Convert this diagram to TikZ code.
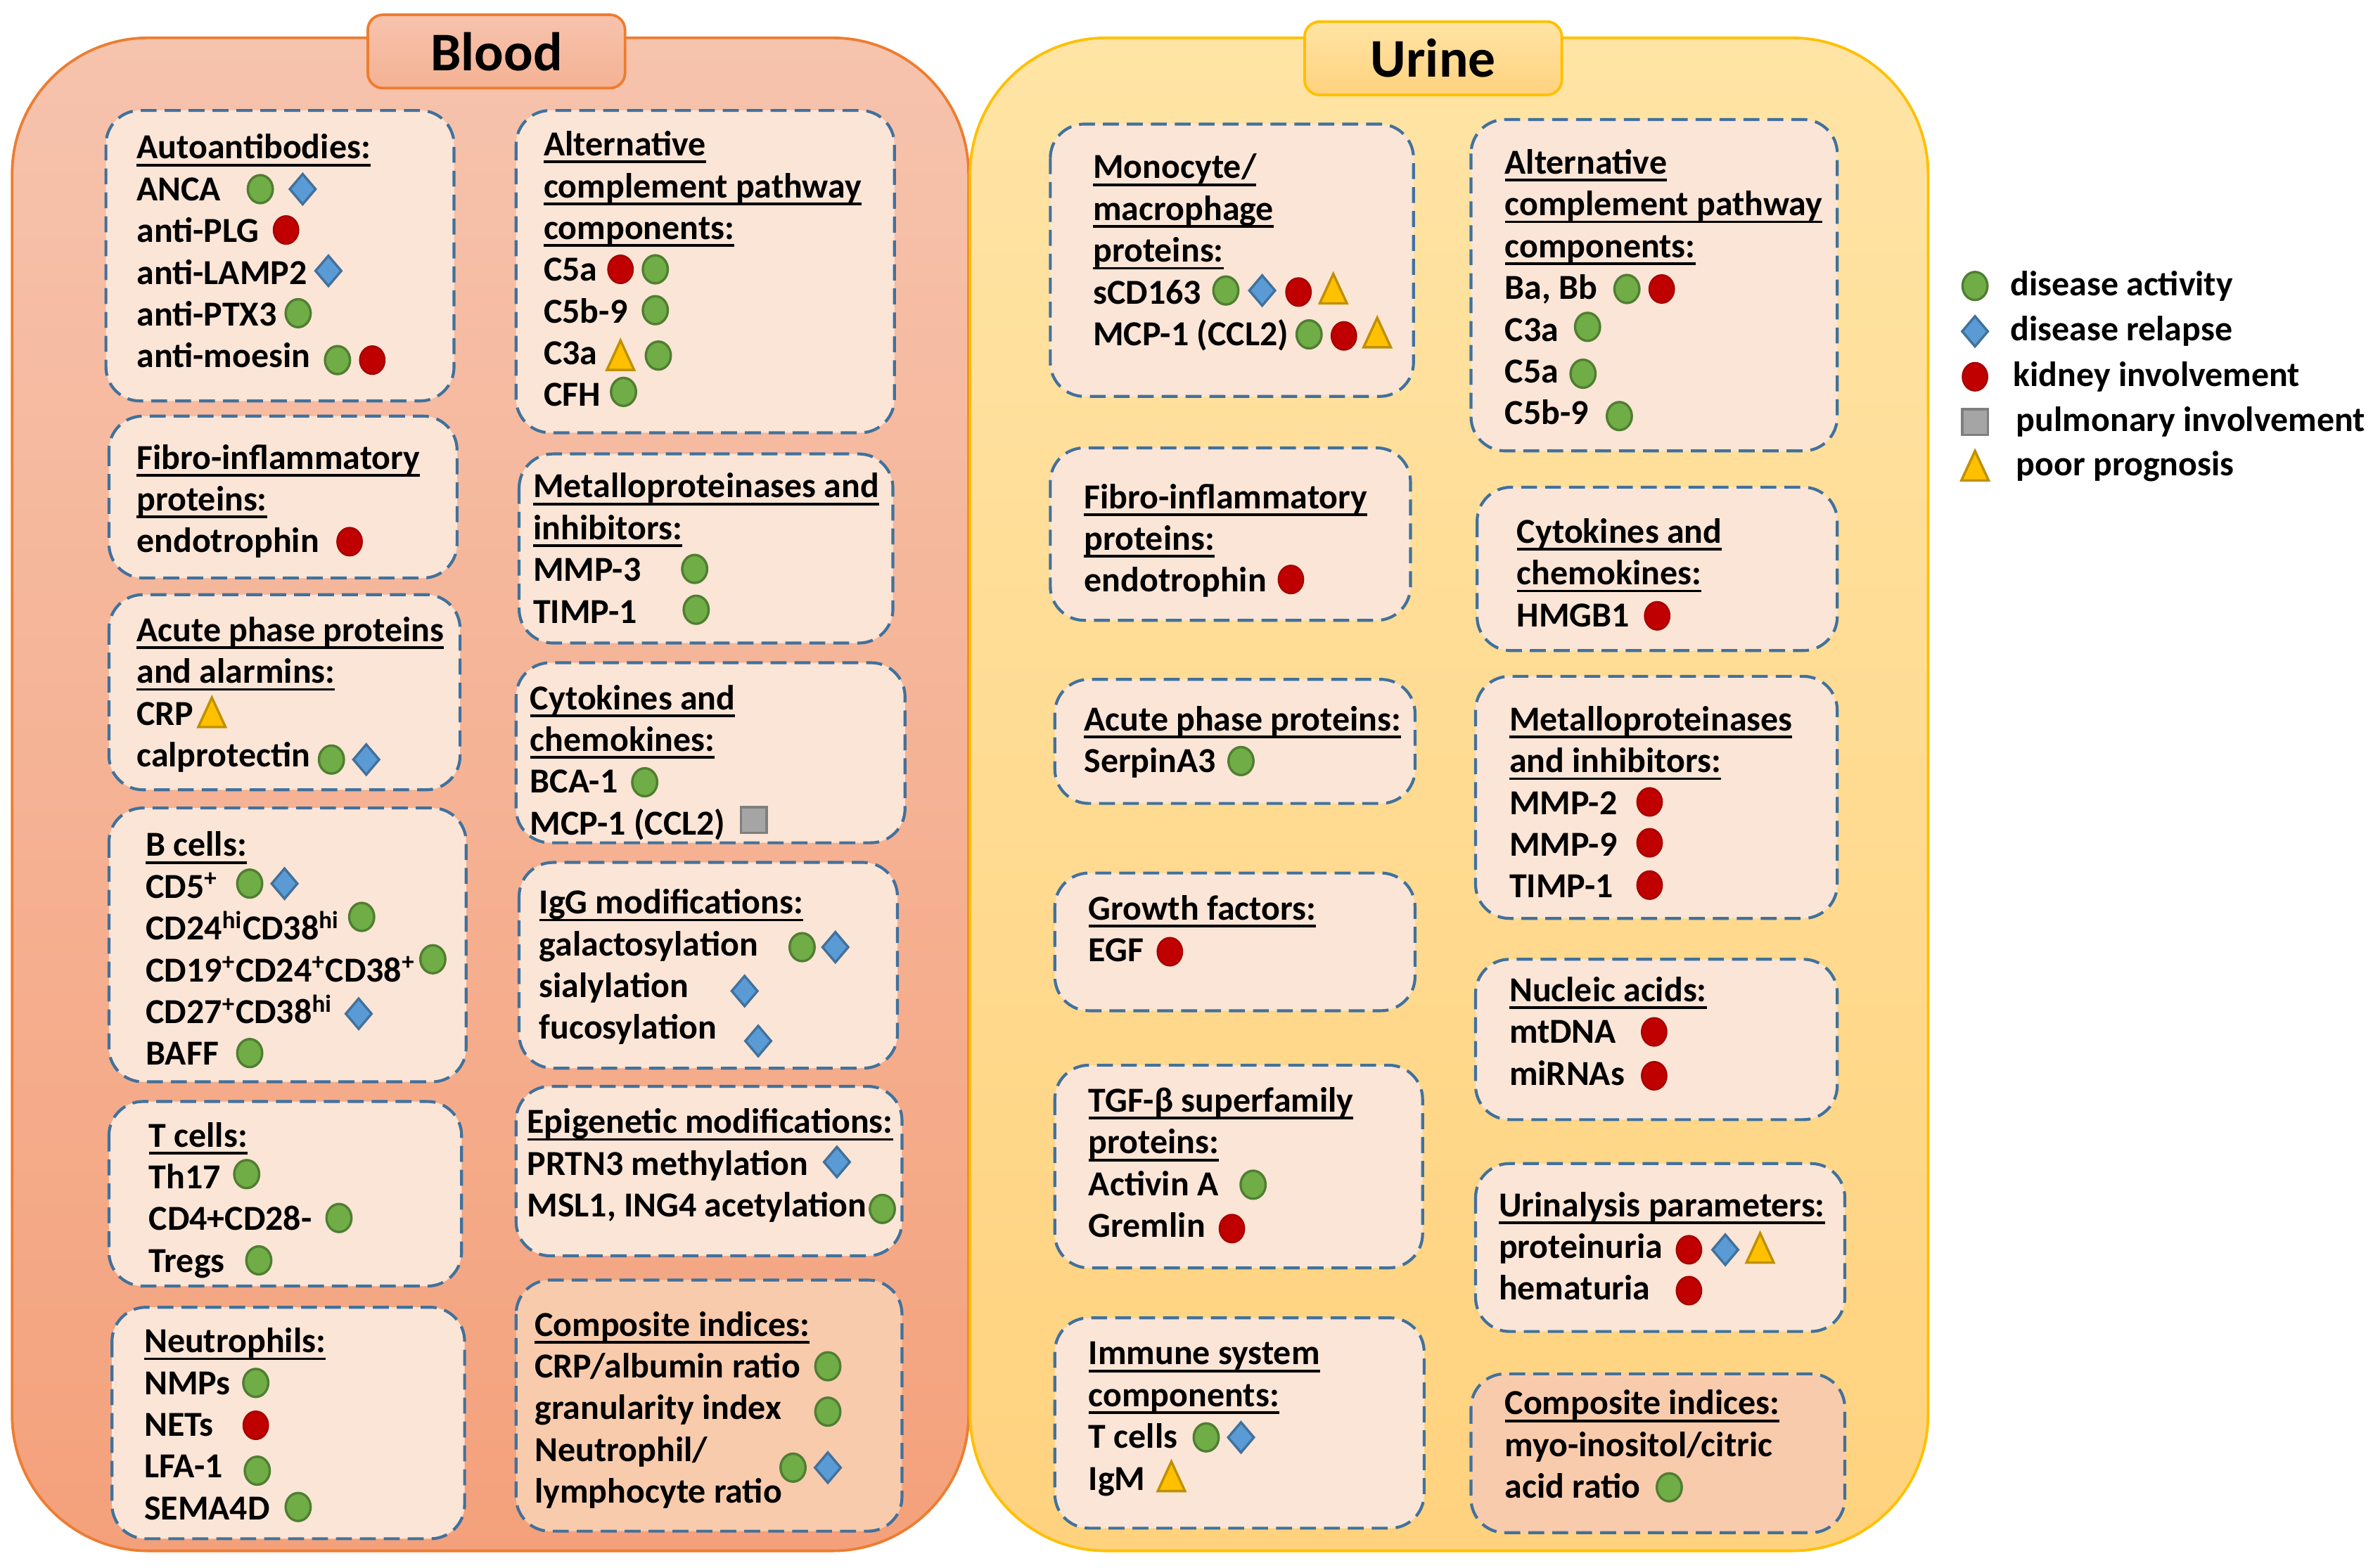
\documentclass[tikz,border=0pt]{standalone}
\usepackage{fontspec}
\setmainfont{Carlito}
\usetikzlibrary{positioning}

\definecolor{bloodline}{HTML}{ED7D31}
\definecolor{bloodtop}{HTML}{F6C3AD}
\definecolor{bloodbot}{HTML}{F4A17B}
\definecolor{urineline}{HTML}{FFC000}
\definecolor{urinetop}{HTML}{FFE4A5}
\definecolor{urinebot}{HTML}{FFD27E}
\definecolor{panelfill}{HTML}{FBE5D6}
\definecolor{compfill}{HTML}{F8CBAD}
\definecolor{dashline}{HTML}{41719C}
\definecolor{actfill}{HTML}{70AD47}
\definecolor{actline}{HTML}{507E32}
\definecolor{relfill}{HTML}{5B9BD5}
\definecolor{relline}{HTML}{41719C}
\definecolor{kidfill}{HTML}{C00000}
\definecolor{kidline}{HTML}{A50000}
\definecolor{pulfill}{HTML}{A5A5A5}
\definecolor{pulline}{HTML}{7F7F7F}
\definecolor{profill}{HTML}{FFC000}
\definecolor{proline}{HTML}{BF9000}

\newcommand{\bodyfont}{\fontsize{13.2}{16}\selectfont\bfseries}
% underlined heading, rule at a fixed depth
\newcommand{\hd}[1]{\setbox0\hbox{#1}\rlap{\rule[-2.8pt]{\wd0}{1pt}}\box0}
% one text line per node, 27.6 units apart
\newcommand{\rows}[4]{%
	\foreach \txt [count=\n] in {#4}
		\node[row] (#1\n) at (#2,{#3+27.6*(\n-1)}) {\txt};%
}

\tikzset{
	bloodbox/.style={
		draw=bloodline,
		line width=1pt,
		top color=bloodtop,
		bottom color=bloodbot,
		rounded corners=1.8cm,
	},
	urinebox/.style={
		draw=urineline,
		line width=1pt,
		top color=urinetop,
		bottom color=urinebot,
		rounded corners=1.8cm,
	},
	tab/.style={
		rectangle,
		rounded corners=0.2cm,
		line width=1pt,
		minimum width=3.4cm,
		minimum height=0.97cm,
		font=\fontsize{20.5}{24}\selectfont\bfseries,
	},
	panel/.style={
		draw=dashline,
		fill=panelfill,
		line width=1.1pt,
		dash pattern=on 6pt off 3pt,
		rounded corners=0.45cm,
	},
	comp/.style={
		panel,
		fill=compfill,
	},
	row/.style={
		anchor=base west,
		inner sep=0pt,
		yshift=-0.16cm,
		font=\bodyfont,
	},
	legtext/.style={
		anchor=west,
		inner sep=0pt,
		font=\bodyfont,
	},
	act/.pic={
		\draw[fill=actfill,draw=actline,line width=0.9pt] (0,0) ellipse [x radius=0.165cm,y radius=0.185cm];
	},
	rel/.pic={
		\draw[fill=relfill,draw=relline,line width=0.9pt] (0,0.2cm) -- (0.17cm,0) -- (0,-0.2cm) -- (-0.17cm,0) -- cycle;
	},
	kid/.pic={
		\draw[fill=kidfill,draw=kidline,line width=0.6pt] (0,0) ellipse [x radius=0.165cm,y radius=0.185cm];
	},
	pul/.pic={
		\draw[fill=pulfill,draw=pulline,line width=0.9pt] (-0.17cm,-0.17cm) rectangle (0.17cm,0.17cm);
	},
	pro/.pic={
		\draw[fill=profill,draw=proline,line width=0.9pt] (0,0.2cm) -- (0.18cm,-0.19cm) -- (-0.18cm,-0.19cm) -- cycle;
	},
}

\begin{document}
\begin{tikzpicture}[x=0.02cm,y=-0.02cm]
	\useasboundingbox (0,0) rectangle (1568,1036);

	% outer areas
	\draw[bloodbox] (8,25) rectangle (640,1025);
	\draw[urinebox] (641,25) rectangle (1274,1025);
	\node[tab,draw=bloodline,top color=bloodtop,bottom color=bloodtop!50!bloodbot] (bloodtab) at (328,34) {Blood};
	\node[tab,draw=urineline,top color=urinetop,bottom color=urinebot] (urinetab) at (947,38.5) {Urine};

	% blood, left column
	\draw[panel] (70,73) rectangle (300,265);
	\draw[panel] (72,275) rectangle (302,382);
	\draw[panel] (72,393) rectangle (304,522);
	\draw[panel] (72,534) rectangle (308,715);
	\draw[panel] (72,728) rectangle (305,850);
	\draw[panel] (74,864) rectangle (307,1017);
	% blood, right column
	\draw[panel] (341,73) rectangle (591,286);
	\draw[panel] (343,300) rectangle (590,425);
	\draw[panel] (341,438) rectangle (598,557);
	\draw[panel] (343,570) rectangle (593,706);
	\draw[panel] (341,718) rectangle (596,830);
	\draw[comp] (341,846) rectangle (596,1012);
	% urine, left column
	\draw[panel] (694,82) rectangle (934,262);
	\draw[panel] (694,296) rectangle (932,410);
	\draw[panel] (697,449) rectangle (935,531);
	\draw[panel] (697,577) rectangle (935,668);
	\draw[panel] (697,704) rectangle (940,838);
	\draw[panel] (697,871) rectangle (941,1010);
	% urine, right column
	\draw[panel] (972,79) rectangle (1214,298);
	\draw[panel] (976,322) rectangle (1214,430);
	\draw[panel] (975,447) rectangle (1214,607);
	\draw[panel] (975,634) rectangle (1214,740);
	\draw[panel] (975,769) rectangle (1219,880);
	\draw[comp] (972,908) rectangle (1219,1013);

	\rows{auto}{90}{97}{\hd{Autoantibodies:},ANCA,anti-PLG,anti-LAMP2,anti-PTX3,anti-moesin}
	\rows{fib}{90}{302}{\hd{Fibro-inflammatory},\hd{proteins:},endotrophin}
	\rows{acu}{90}{416}{\hd{Acute phase proteins},\hd{and alarmins:},CRP,calprotectin}
	\rows{bcl}{96}{558}{\hd{B cells:},CD5\textsuperscript{+},CD24\textsuperscript{hi}CD38\textsuperscript{hi},CD19\textsuperscript{+}CD24\textsuperscript{+}CD38\textsuperscript{+},CD27\textsuperscript{+}CD38\textsuperscript{hi},BAFF}
	\rows{tcl}{98}{750}{\hd{T cells:},Th17,CD4+CD28-,Tregs}
	\rows{neu}{95}{886}{\hd{Neutrophils:},NMPs,NETs,LFA-1,SEMA4D}

	\rows{acp}{359}{95}{\hd{Alternative},\hd{complement pathway},\hd{components:},C5a,C5b-9,C3a,CFH}
	\rows{mmp}{352}{321}{\hd{Metalloproteinases and},\hd{inhibitors:},MMP-3,TIMP-1}
	\rows{cyt}{350}{461}{\hd{Cytokines and},\hd{chemokines:},BCA-1,MCP-1 (CCL2)}
	\rows{igg}{356}{596}{\hd{IgG modifications:},galactosylation,sialylation,fucosylation}
	\rows{epi}{348}{741}{\hd{Epigenetic modifications:},PRTN3 methylation,{MSL1, ING4 acetylation}}
	\rows{cmp}{353}{875}{\hd{Composite indices:},CRP/albumin ratio,granularity index,Neutrophil/,lymphocyte ratio}

	\rows{mon}{722}{110}{\hd{Monocyte/},\hd{macrophage},\hd{proteins:},sCD163,MCP-1 (CCL2)}
	\rows{ufib}{716}{328}{\hd{Fibro-inflammatory},\hd{proteins:},endotrophin}
	\rows{uacu}{716}{475}{\hd{Acute phase proteins:},SerpinA3}
	\rows{gro}{719}{600}{\hd{Growth factors:},EGF}
	\rows{tgf}{719}{727}{\hd{TGF-β superfamily},\hd{proteins:},Activin A,Gremlin}
	\rows{imm}{719}{894}{\hd{Immune system},\hd{components:},T cells,IgM}

	\rows{uacp}{994}{107}{\hd{Alternative},\hd{complement pathway},\hd{components:},{Ba, Bb},C3a,C5a,C5b-9}
	\rows{ucyt}{1002}{351}{\hd{Cytokines and},\hd{chemokines:},HMGB1}
	\rows{ummp}{997}{475}{\hd{Metalloproteinases},\hd{and inhibitors:},MMP-2,MMP-9,TIMP-1}
	\rows{nuc}{997}{654}{\hd{Nucleic acids:},mtDNA,miRNAs}
	\rows{uri}{990}{796}{\hd{Urinalysis parameters:},proteinuria,hematuria}
	\rows{ucmp}{994}{927}{\hd{Composite indices:},myo-inositol/citric,acid ratio}

	% markers, blood
	\pic at (172,125) {act}; \pic at (200,125) {rel};
	\pic at (189,152) {kid};
	\pic at (217,179) {rel};
	\pic at (197,207) {act};
	\pic at (223,238) {act}; \pic at (246,238) {kid};
	\pic at (231,358) {kid};
	\pic at (140,471) {pro};
	\pic at (219,502) {act}; \pic at (242,502) {rel};
	\pic at (165,584) {act}; \pic at (188,584) {rel};
	\pic at (239,606) {act};
	\pic at (286,634) {act};
	\pic at (237,670) {rel};
	\pic at (165,696) {act};
	\pic at (163,776) {act};
	\pic at (224,805) {act};
	\pic at (171,833) {act};
	\pic at (169,914) {act};
	\pic at (169,942) {kid};
	\pic at (170,972) {act};
	\pic at (197,996) {act};
	\pic at (410,178) {kid}; \pic at (433,178) {act};
	\pic at (433,205) {act};
	\pic at (410,235) {pro}; \pic at (435,235) {act};
	\pic at (412,259) {act};
	\pic at (459,376) {act};
	\pic at (460,403) {act};
	\pic at (426,517) {act};
	\pic at (498,542) {pul};
	\pic at (530,626) {act}; \pic at (552,626) {rel};
	\pic at (492,655) {rel};
	\pic at (501,688) {rel};
	\pic at (553,768) {rel};
	\pic at (583,799) {act};
	\pic at (547,903) {act};
	\pic at (547,933) {act};
	\pic at (524,970) {act}; \pic at (547,970) {rel};

	% markers, urine
	\pic at (810,192) {act}; \pic at (834,192) {rel}; \pic at (858,193) {kid}; \pic at (881,191) {pro};
	\pic at (865,221) {act}; \pic at (888,222) {kid}; \pic at (910,220) {pro};
	\pic at (853,383) {kid};
	\pic at (820,503) {act};
	\pic at (773,629) {kid};
	\pic at (828,783) {act};
	\pic at (814,812) {kid};
	\pic at (797,950) {act}; \pic at (820,950) {rel};
	\pic at (774,976) {pro};
	\pic at (1075,191) {act}; \pic at (1098,191) {kid};
	\pic at (1049,216) {act};
	\pic at (1046,247) {act};
	\pic at (1070,275) {act};
	\pic at (1095,407) {kid};
	\pic at (1090,530) {kid};
	\pic at (1090,557) {kid};
	\pic at (1090,585) {kid};
	\pic at (1093,682) {kid};
	\pic at (1093,711) {kid};
	\pic at (1116,826) {kid}; \pic at (1140,826) {rel}; \pic at (1163,825) {pro};
	\pic at (1116,853) {kid};
	\pic at (1103,983) {act};

	% legend
	\pic at (1305,189) {act};
	\pic at (1305,219) {rel};
	\pic at (1305,249) {kid};
	\pic at (1305,279) {pul};
	\pic at (1305,308) {pro};
	\node[legtext] (legact) at (1328,189) {disease activity};
	\node[legtext] (legrel) at (1328,219) {disease relapse};
	\node[legtext] (legkid) at (1330,249) {kidney involvement};
	\node[legtext] (legpul) at (1332,279) {pulmonary involvement};
	\node[legtext] (legpro) at (1332,308) {poor prognosis};
\end{tikzpicture}
\end{document}
